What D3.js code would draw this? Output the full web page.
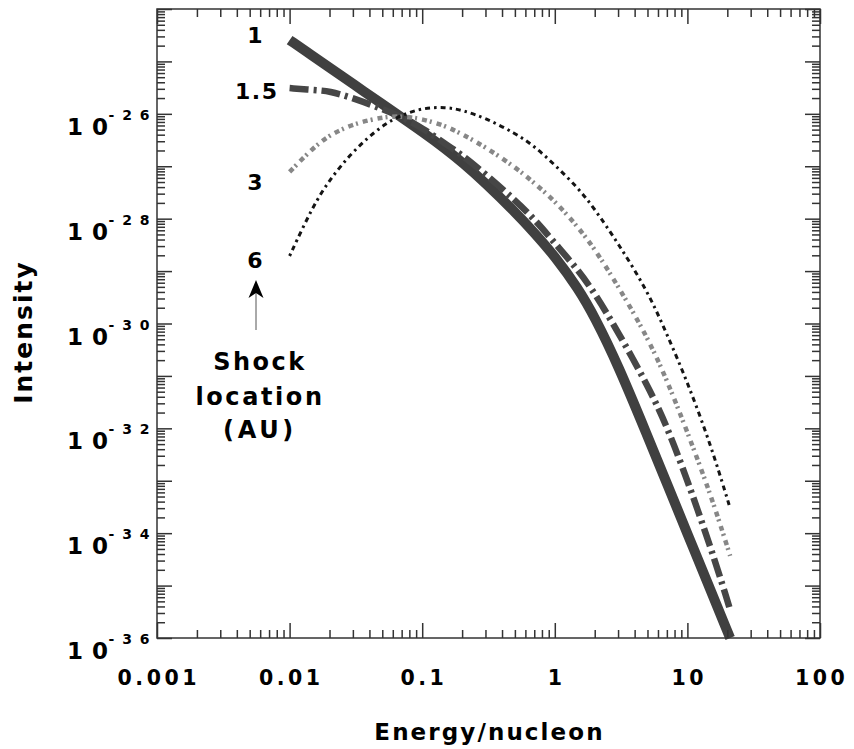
<!DOCTYPE html>
<html>
<head>
<meta charset="utf-8">
<script src="https://cdn.jsdelivr.net/npm/d3@7"></script>
<style>
    html, body { margin: 0; padding: 0; background: #fff; }
    #chart svg { display: block; font-family: "DejaVu Sans", "Liberation Sans", sans-serif; font-weight: bold; }
</style>
</head>
<body>
<div id="chart"></div>
<script>
// energy per nucleon (x) at which the spectra were read
const energy = [0.01, 0.015, 0.02, 0.03, 0.05, 0.07, 0.1, 0.15, 0.2, 0.3, 0.5, 0.7, 1, 1.5, 2, 3, 5, 7, 10, 15, 20, 21];

// intensity per shock location
const intensity1AU = [2.56e-25, 1.26e-25, 7.62e-26, 3.75e-26, 1.53e-26, 8.51e-27, 4.56e-27, 2.15e-27, 1.19e-27, 4.81e-28, 1.35e-28, 5.42e-29, 1.92e-29, 4.66e-30, 1.33e-30, 1.61e-31, 7.14e-33, 8.91e-34, 9.79e-35, 7.98e-36, 1.34e-36, 1.0e-36];
const intensity15AU = [3.1e-26, 2.85e-26, 2.73e-26, 2.0e-26, 1.24e-26, 8.7e-27, 5.4e-27, 2.66e-27, 1.64e-27, 7.1e-28, 2.27e-28, 9.9e-29, 3.4e-29, 1.05e-29, 3.8e-30, 6.9e-31, 6.7e-32, 1.11e-32, 1.03e-33, 5.31e-35, 5.3e-36, 3.4e-36];
const intensity3AU = [7.8e-28, 2.23e-27, 3.95e-27, 6.4e-27, 8.7e-27, 9.1e-27, 8.0e-27, 5.9e-27, 4.1e-27, 2.33e-27, 9.7e-28, 4.8e-28, 2.17e-28, 6.9e-29, 2.64e-29, 5.2e-30, 5.5e-31, 8.4e-32, 8.5e-33, 5.4e-34, 5.5e-35, 3.7e-35];
const intensity6AU = [1.94e-29, 1.75e-28, 5.5e-28, 1.95e-27, 6.1e-27, 9.5e-27, 1.29e-26, 1.35e-26, 1.18e-26, 8.3e-27, 4.3e-27, 2.43e-27, 1.06e-27, 3.85e-28, 1.53e-28, 3.4e-29, 4.2e-30, 6.3e-31, 7.7e-32, 4.8e-33, 4.5e-34, 3.0e-34];

const shockLocations = ["1", "1.5", "3", "6"];

const xTickValues = [0.001, 0.01, 0.1, 1, 10, 100];
const xTickLabels = ["0.001", "0.01", "0.1", "1", "10", "100"];
const yTickExponents = [-26, -28, -30, -32, -34, -36];

const width = 854;
const height = 749;
const margin = ({ top: 9, right: 34, bottom: 111, left: 157 });

const drawChart = () => {

    const series = [
        { name: shockLocations[0], values: intensity1AU, color: "#404040", width: 10, dash: null },
        { name: shockLocations[1], values: intensity15AU, color: "#464646", width: 6.5, dash: "19,5,3,5" },
        { name: shockLocations[2], values: intensity3AU, color: "#878787", width: 4.5, dash: "5,3,2,5" },
        { name: shockLocations[3], values: intensity6AU, color: "#141414", width: 3, dash: "2.5,4,5,4" }
    ];

    const xScale = d3.scaleLog()
        .domain([0.001, 100])
        .range([margin.left, width - margin.right]);

    const yScale = d3.scaleLog()
        .domain([1e-36, 1e-24])
        .range([height - margin.bottom, margin.top]);

    const svg = d3.select("#chart")
        .append("svg")
        .attr("width", width)
        .attr("height", height)
        .attr("viewBox", [0, 0, width, height]);

    svg.append("rect")
        .attr("width", width)
        .attr("height", height)
        .attr("fill", "#fff");

    const line = d3.line()
        .x(d => xScale(d[0]))
        .y(d => yScale(d[1]))
        .curve(d3.curveBasis);

    svg.append("g")
        .selectAll("path")
        .data(series)
        .join("path")
        .attr("fill", "none")
        .attr("stroke", d => d.color)
        .attr("stroke-width", d => d.width)
        .attr("stroke-dasharray", d => d.dash)
        .attr("d", d => line(energy.map((e, i) => [e, d.values[i]])));

    drawAxes(svg, xScale, yScale);

    // curve labels at the left end
    const labelPos = [[255, 43], [256, 99], [255, 190], [255, 268]];
    svg.append("g")
        .attr("font-size", 22)
        .attr("letter-spacing", 1.5)
        .attr("text-anchor", "middle")
        .selectAll("text")
        .data(shockLocations)
        .join("text")
        .attr("x", (d, i) => labelPos[i][0] + 0.75)
        .attr("y", (d, i) => labelPos[i][1])
        .text(d => d);

    // arrow pointing at the labels
    svg.append("line")
        .attr("x1", 256).attr("y1", 330)
        .attr("x2", 256).attr("y2", 292)
        .attr("stroke", "#555")
        .attr("stroke-width", 1);
    svg.append("path")
        .attr("d", "M256,280 L248.5,298 L256,293 L263.5,298 Z")
        .attr("fill", "#000");

    const note = svg.append("g")
        .attr("font-size", 24)
        .attr("text-anchor", "middle");
    note.append("text").attr("x", 260).attr("y", 370).attr("letter-spacing", 2.5).text("Shock");
    note.append("text").attr("x", 260).attr("y", 405).attr("letter-spacing", 2.6).text("location");
    note.append("text").attr("x", 260).attr("y", 438).attr("letter-spacing", 3.7).text("(AU)");
}

const drawAxes = (svg, xScale, yScale) => {

    const x0 = margin.left, x1 = width - margin.right;
    const y0 = margin.top, y1 = height - margin.bottom;

    const xMajor = d3.range(-3, 3).map(k => Math.pow(10, k));
    const xMinor = xMajor.slice(0, -1).flatMap(v => d3.range(2, 10).map(m => m * v));
    const yMajor = d3.range(-36, -23).map(k => Math.pow(10, k));
    const yMinor = yMajor.slice(0, -1).flatMap(v => d3.range(2, 10).map(m => m * v));

    const ticks = (axis, values, size, transform) => svg.append("g")
        .attr("transform", transform)
        .call(axis.tickValues(values).tickSize(size).tickFormat(""))
        .call(g => g.select(".domain").remove())
        .call(g => g.selectAll("line").attr("stroke", "#333").attr("stroke-width", 1.5));

    ticks(d3.axisBottom(xScale), xMajor, -15, `translate(0,${y1})`);
    ticks(d3.axisBottom(xScale), xMinor, -8, `translate(0,${y1})`);
    ticks(d3.axisTop(xScale), xMajor, -15, `translate(0,${y0})`);
    ticks(d3.axisTop(xScale), xMinor, -8, `translate(0,${y0})`);
    ticks(d3.axisLeft(yScale), yMajor, -15, `translate(${x0},0)`);
    ticks(d3.axisLeft(yScale), yMinor, -8, `translate(${x0},0)`);
    ticks(d3.axisRight(yScale), yMajor, -15, `translate(${x1},0)`);
    ticks(d3.axisRight(yScale), yMinor, -8, `translate(${x1},0)`);

    svg.append("rect")
        .attr("x", x0)
        .attr("y", y0)
        .attr("width", x1 - x0)
        .attr("height", y1 - y0)
        .attr("fill", "none")
        .attr("stroke", "#333")
        .attr("stroke-width", 1.5);

    // x tick labels
    svg.append("g")
        .attr("font-size", 20.5)
        .attr("letter-spacing", 3.5)
        .attr("text-anchor", "middle")
        .selectAll("text")
        .data(xTickValues)
        .join("text")
        .attr("x", d => xScale(d) + 1.75)
        .attr("y", y1 + 47)
        .text((d, i) => xTickLabels[i]);

    // y tick labels, 10 with a raised exponent
    const yLabels = svg.append("g")
        .attr("text-anchor", "end")
        .selectAll("text")
        .data(yTickExponents)
        .join("text")
        .attr("x", x0 - 6)
        .attr("y", d => yScale(Math.pow(10, d)) + 21);
    yLabels.append("tspan")
        .attr("font-size", 23)
        .attr("letter-spacing", 0.5)
        .text("1 0");
    yLabels.append("tspan")
        .attr("font-size", 14)
        .attr("letter-spacing", 1.5)
        .attr("dy", -15)
        .text(d => "- " + String(Math.abs(d)).split("").join(" "));

    // axis titles
    svg.append("text")
        .attr("x", (x0 + x1) / 2 + 1)
        .attr("y", 740)
        .attr("font-size", 23)
        .attr("letter-spacing", 2.1)
        .attr("text-anchor", "middle")
        .text("Energy/nucleon");

    svg.append("text")
        .attr("transform", `translate(32,${332}) rotate(-90)`)
        .attr("font-size", 25)
        .attr("letter-spacing", 2)
        .attr("text-anchor", "middle")
        .text("Intensity");
}

drawChart();
</script>
</body>
</html>
